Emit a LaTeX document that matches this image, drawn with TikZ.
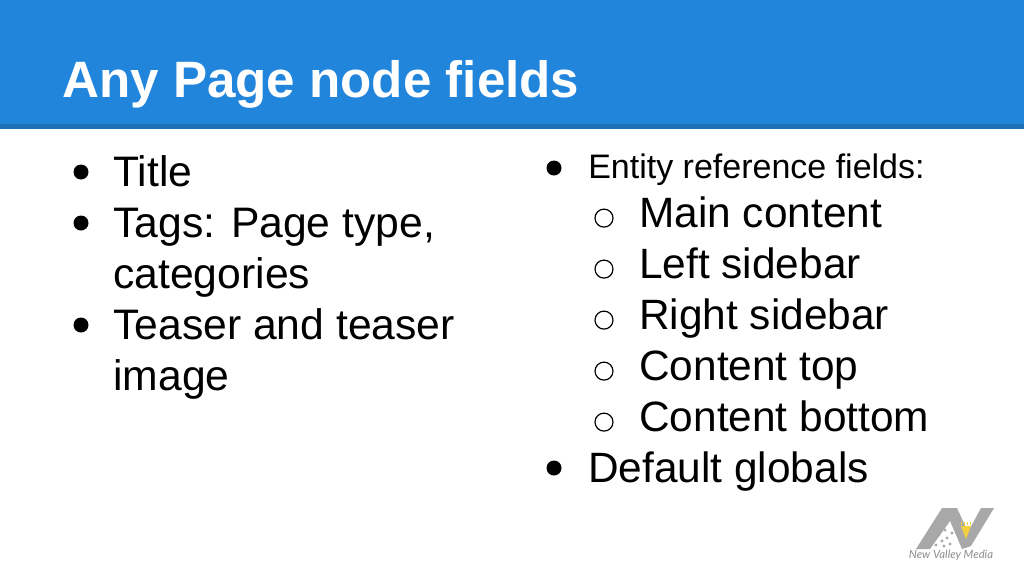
\documentclass[tikz,border=0pt]{standalone}
\usepackage{fontspec}
\setmainfont{Liberation Sans}
\newfontfamily\logofont{Lato}
\definecolor{headblue}{HTML}{2185DC}
\definecolor{headedge}{HTML}{1F6FB5}
\definecolor{logogray}{HTML}{A8A8A8}
\definecolor{logotext}{HTML}{8C8C8C}
\definecolor{logosun}{HTML}{F4D03F}
\tikzset{
    lefttext/.style={anchor=base west, inner sep=0pt, font=\fontsize{32}{36}\selectfont, text=black},
    bodytext/.style={lefttext, font=\fontsize{31.8}{36}\selectfont},
    smalltext/.style={lefttext, font=\fontsize{25.5}{30}\selectfont},
    dotmark/.style={circle, fill=black, inner sep=0pt, minimum size=11.25pt},
    ringmark/.style={circle, draw=black, line width=.9pt, inner sep=0pt, minimum size=13.5pt},
}
\begin{document}
\begin{tikzpicture}[x=.75pt, y=-.75pt]
\useasboundingbox (0,0) rectangle (1024,576);
\fill[white](0,0) rectangle (1024,576);
\fill[headblue](0,0) rectangle (1024,124);
\fill[headedge](0,124) rectangle (1024,129);

\node (head) at (62,97)[anchor=base west, inner sep=0pt, text=white, font=\fontsize{38.35}{44}\selectfont\bfseries]{Any Page node fields};

% left column
\node (dotA) at (81,172)[dotmark]{};
\node (title) at (113,186.5)[lefttext]{Title};
\node (dotB) at (81,223)[dotmark]{};
\node (tags) at (113,237.6)[lefttext]{Tags: Page type,};
\node (cats) at (113,288.6)[lefttext]{categories};
\node (dotC) at (81,325)[dotmark]{};
\node (teaser) at (113,339.6)[lefttext]{Teaser and teaser};
\node (image) at (113,390.6)[lefttext]{image};

% right column
\node (dotD) at (554,168)[dotmark]{};
\node (entity) at (588,178)[smalltext]{Entity reference fields:};
\foreach \y/\name/\txt in {227.6/main/Main content, 278.6/left/Left sidebar, 329.6/right/Right sidebar, 380.6/top/Content top, 431.6/bottom/Content bottom}{
    \node (ring\name) at (604,\y-9.5)[ringmark]{};
    \node (\name) at (639,\y)[bodytext]{\txt};
}
\node (dotE) at (554,468)[dotmark]{};
\node (globals) at (588,482.6)[bodytext]{Default globals};

% logo
\fill[logogray](916,549)--(930,549)--(950,521)--(962,549)--(971,546)--(994,508)--(981,508)--(968,532)--(957,508)--(942,508)--cycle;
\foreach \x/\y in {939/535, 942/541, 945/530, 947/538, 950/544, 944/546, 952/533, 936/545}
    \fill[logogray](\x,\y) circle (1.6);
\fill[logosun](961,526)--(971,526)--(966,539)--cycle;
\foreach \x in {961,964,967,970}
    \draw[logosun, line width=.5pt](\x,525)--(\x,522);
\node (logo) at (951,558)[anchor=base, inner sep=0pt, text=logotext, font=\logofont\itshape\fontsize{8.5}{10}\selectfont]{New Valley Media};
\end{tikzpicture}
\end{document}
